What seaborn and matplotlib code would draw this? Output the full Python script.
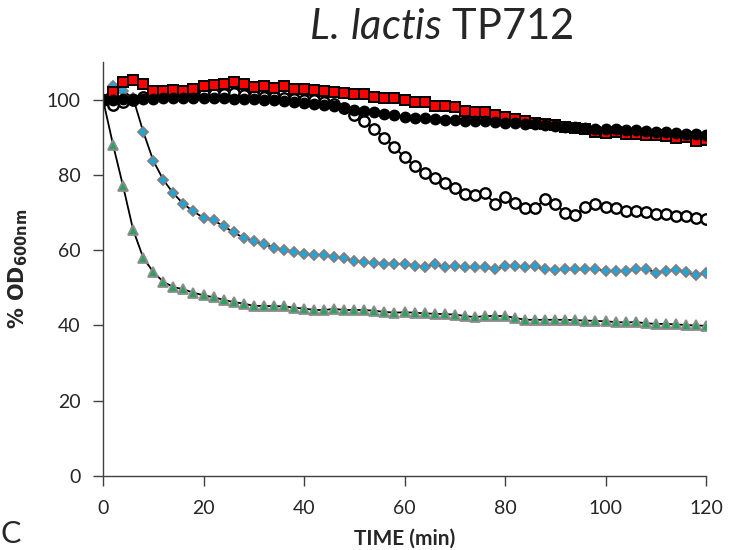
import numpy as np
import pandas as pd
import seaborn as sns
import matplotlib.pyplot as plt

# time points (min), one reading every 2 min
time_min = list(range(0, 121, 2))

# % OD600nm readings
red_sq = [100.0, 101.9, 104.7, 105.1, 104.2, 102.3, 102.4, 102.6, 102.4, 102.7,
          103.7, 103.8, 104.1, 104.8, 104.1, 103.3, 103.7, 103.2, 103.7, 102.8,
          102.8, 102.6, 102.4, 101.9, 101.7, 101.5, 101.5, 100.8, 100.4, 100.4,
          99.9, 99.5, 99.5, 98.4, 98.2, 98.0, 97.1, 96.8, 96.8, 95.8,
          95.5, 94.8, 94.4, 93.9, 93.6, 93.2, 92.8, 92.4, 92.2, 91.3,
          91.2, 91.3, 91.0, 90.9, 90.6, 90.5, 90.3, 89.9, 90.1, 89.0,
          89.2]
black_dot = [100.0, 100.0, 100.1, 100.2, 100.2, 100.3, 100.4, 100.4, 100.5, 100.5,
             100.4, 100.4, 100.4, 100.3, 100.2, 100.1, 99.9, 99.8, 99.6, 99.4,
             99.2, 98.9, 98.6, 98.2, 97.8, 97.3, 96.9, 96.6, 96.2, 95.8,
             95.4, 95.1, 95.0, 94.9, 94.7, 94.6, 94.4, 94.3, 94.2, 94.0,
             93.9, 93.8, 93.6, 93.4, 93.2, 93.0, 92.8, 92.6, 92.5, 92.3,
             92.2, 92.1, 91.9, 91.8, 91.6, 91.5, 91.3, 91.2, 91.0, 90.8,
             90.6]
open_circ = [100.0, 98.6, 99.4, 100.0, 100.6, 101.0, 101.2, 101.3, 101.3, 101.5,
             101.5, 101.5, 101.5, 101.8, 101.3, 101.0, 100.8, 100.6, 100.5, 100.3,
             100.0, 99.8, 99.4, 98.8, 97.8, 95.9, 94.4, 92.2, 89.9, 87.4,
             84.7, 82.4, 80.4, 79.2, 77.8, 76.5, 74.8, 74.6, 75.2, 72.3,
             74.1, 72.5, 71.1, 71.3, 73.5, 72.4, 69.8, 69.4, 71.6, 72.2,
             71.6, 71.2, 70.4, 70.3, 70.2, 69.7, 69.5, 69.0, 69.0, 68.6,
             68.2]
blue_dia = [100.0, 103.5, 102.3, 100.4, 91.5, 83.8, 78.7, 75.1, 72.3, 70.3,
            68.6, 67.9, 66.4, 64.7, 63.3, 62.4, 61.6, 60.7, 60.0, 59.5,
            59.0, 58.7, 58.7, 58.2, 57.8, 57.2, 56.8, 56.5, 56.4, 56.4,
            56.3, 55.9, 55.6, 56.3, 55.5, 55.9, 55.5, 55.4, 55.5, 54.9,
            55.8, 55.8, 55.4, 55.7, 54.9, 54.7, 54.9, 54.9, 54.9, 55.1,
            54.4, 54.5, 54.5, 54.9, 55.1, 54.0, 54.5, 54.7, 54.2, 53.3,
            54.0]
green_tri = [100.0, 88.0, 77.0, 65.4, 58.0, 54.2, 51.6, 50.2, 49.6, 48.7,
             48.0, 47.5, 46.8, 46.2, 45.8, 45.2, 45.2, 45.1, 45.1, 44.7,
             44.5, 44.1, 44.1, 44.4, 44.1, 44.1, 44.1, 43.9, 43.6, 43.4,
             43.5, 43.4, 43.2, 43.1, 43.0, 42.9, 42.5, 42.2, 42.5, 42.5,
             42.5, 42.0, 41.5, 41.5, 41.5, 41.5, 41.5, 41.4, 41.3, 41.2,
             41.1, 40.9, 40.8, 40.9, 40.6, 40.4, 40.4, 40.3, 40.1, 40.0,
             39.9]

y_ticks = [0, 20, 40, 60, 80, 100]
x_ticks = [0, 20, 40, 60, 80, 100, 120]

sns.set_style("ticks")
plt.rcParams['font.family'] = ['Lato', 'DejaVu Sans']
plt.rcParams['mathtext.fontset'] = 'custom'
plt.rcParams['mathtext.it'] = 'Lato:italic'
plt.rcParams['mathtext.rm'] = 'Lato'
plt.rcParams['mathtext.bf'] = 'DejaVu Sans:bold'

fig = plt.figure(figsize=(7.36, 5.5), dpi=100)
ax = fig.add_axes([103 / 736, 74 / 550, 603 / 736, 414 / 550])

# (values, marker, size, face, edge, edge width) - drawn bottom to top
series = [
    (green_tri, '^', 6.5, '#2ca25f', '#8c8c8c', 1.3),
    (blue_dia, 'D', 5.5, '#1aa7e0', '#7f7f7f', 1.3),
    (open_circ, 'o', 7.5, 'white', 'black', 1.7),
    (red_sq, 's', 7.5, '#ff0000', 'black', 1.4),
    (black_dot, 'o', 7.5, 'black', 'black', 1.0),
]
for vals, mk, ms, fc, ec, mew in series:
    df = pd.DataFrame({'time': time_min, 'od': vals})
    sns.lineplot(data=df, x='time', y='od', ax=ax, color='black', lw=1.3,
                 marker=mk, markersize=ms, markerfacecolor=fc,
                 markeredgecolor=ec, markeredgewidth=mew)

ax.set_xlim(0, 120)
ax.set_ylim(0, 110)
ax.set_xticks(x_ticks)
ax.set_yticks(y_ticks)
ax.tick_params(axis='both', labelsize=14, color='#404040', length=7,
               width=1, direction='out')
ax.tick_params(axis='y', pad=9)
ax.tick_params(axis='x', pad=10)
for side in ['top', 'right']:
    ax.spines[side].set_visible(False)
for side in ['left', 'bottom']:
    ax.spines[side].set_color('#404040')
    ax.spines[side].set_linewidth(1)

ax.set_xlabel('TIME (min)', fontsize=15, fontweight='bold', labelpad=9)
ax.set_ylabel(r'% $\mathbf{OD_{600nm}}$', fontsize=15, fontweight='bold',
              family='DejaVu Sans', labelpad=12)

fig.text(0.599, 0.951, r'$\it{L.\,lactis}$ TP712', fontsize=30,
         ha='center', va='center')
# panel letter at the lower left
fig.text(0.001, 0.003, 'C', fontsize=22, ha='left', va='bottom')

fig.savefig('out.png', dpi=100)
